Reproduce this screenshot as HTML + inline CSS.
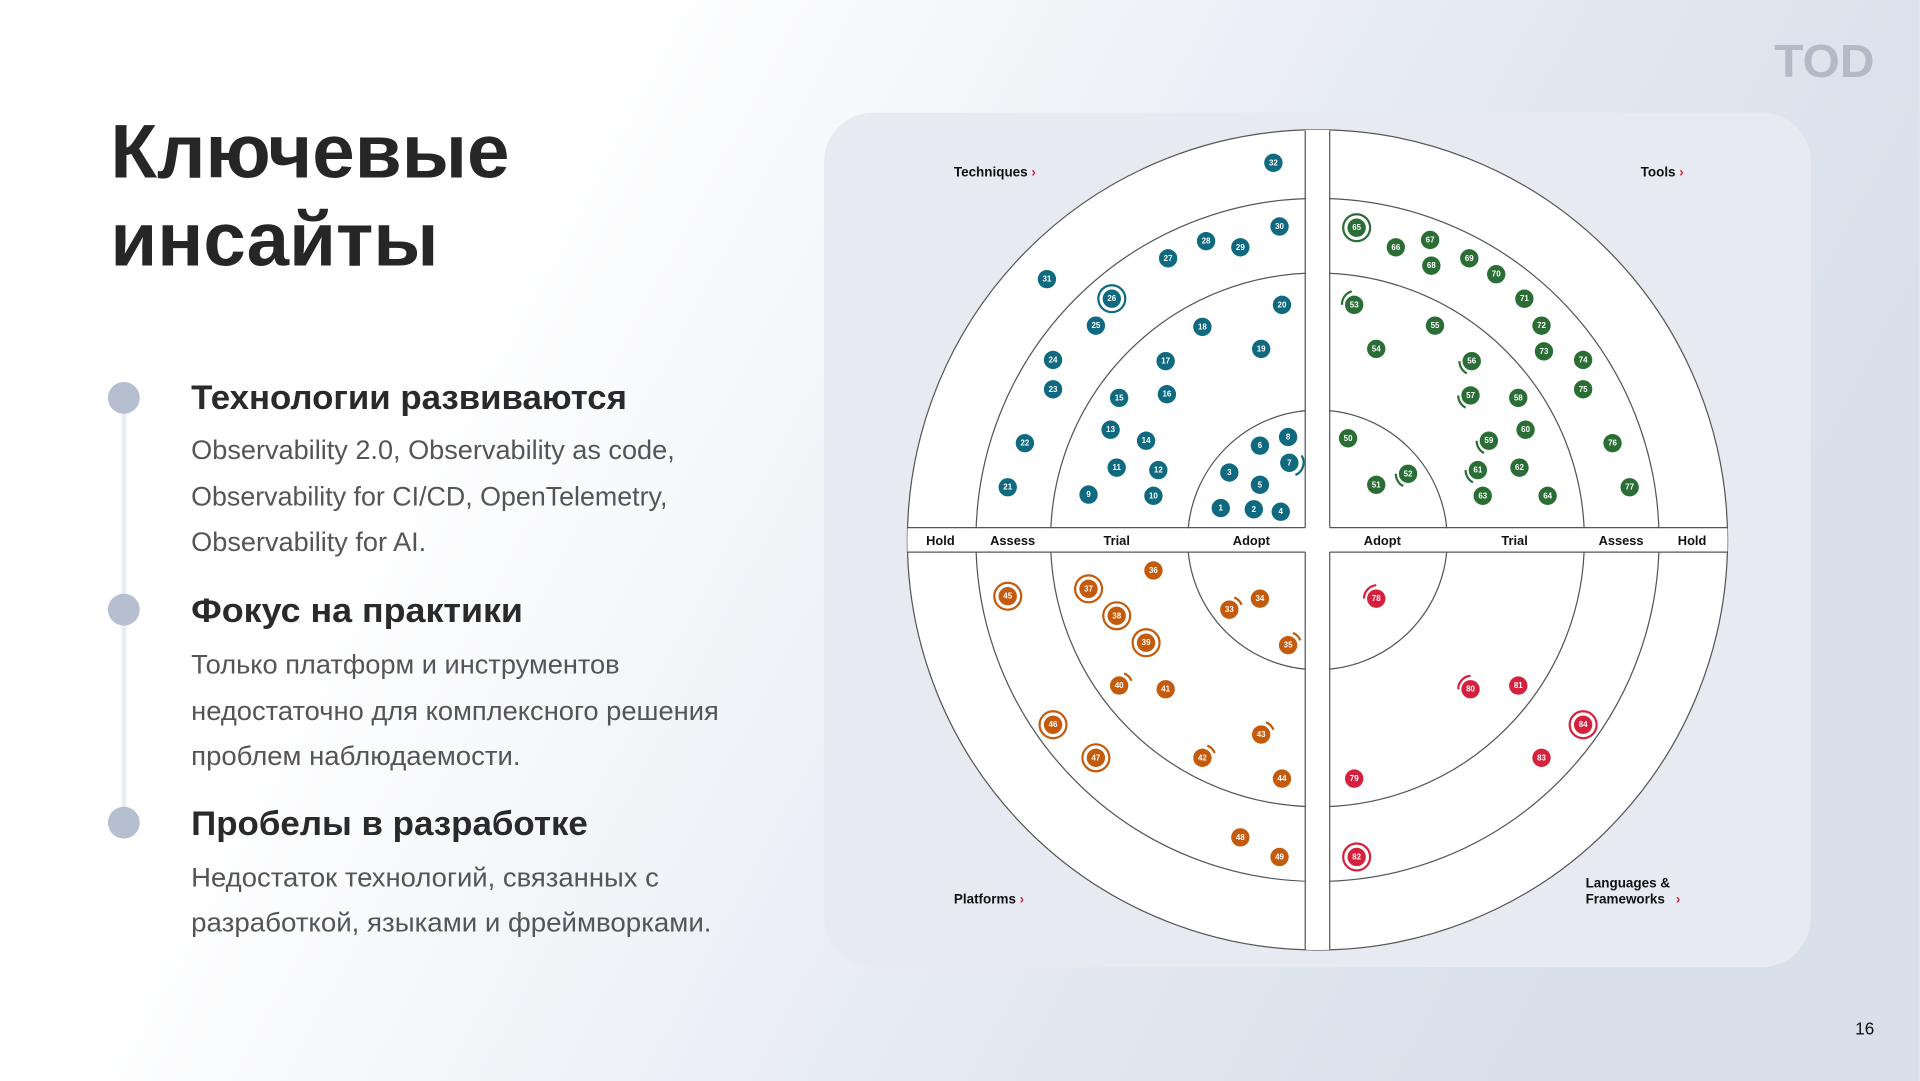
<!DOCTYPE html>
<html><head><meta charset="utf-8"><style>
html,body{margin:0;padding:0;width:1920px;height:1081px;overflow:hidden}
svg{display:block}
.t{font-family:"Liberation Sans",sans-serif;fill:#fff;font-size:6.5px;font-weight:bold;text-anchor:middle;dominant-baseline:central}
.tl{fill:#0f6a80}.gr{fill:#2a6e35}.or{fill:#c45a0c}.rd{fill:#d4213d}
.lb{font-family:"Liberation Sans",sans-serif;font-size:10.5px;font-weight:bold;fill:#111;text-anchor:middle}
.q{font-family:"Liberation Sans",sans-serif;font-size:11px;font-weight:bold;fill:#111}
.h{font-family:"Liberation Sans",sans-serif;font-size:28px;font-weight:bold;fill:#2a2a2a}
.b{font-family:"Liberation Sans",sans-serif;font-size:22px;fill:#555}
</style></head><body>
<svg width="1920" height="1081" viewBox="0 0 1568 883" xmlns="http://www.w3.org/2000/svg">
<defs>
<linearGradient id="bg" x1="0" y1="0" x2="1" y2="0.3">
<stop offset="0.3" stop-color="#ffffff"/><stop offset="0.75" stop-color="#e3e8f1"/><stop offset="1" stop-color="#d9dfeb"/>
</linearGradient>
<clipPath id="cc"><circle cx="1076" cy="441" r="335"/></clipPath>
</defs>
<rect width="1568" height="883" fill="url(#bg)"/>
<text x="1490" y="63" font-family="Liberation Sans,sans-serif" font-size="38" font-weight="bold" fill="#b3b9c6" text-anchor="middle" textLength="82" lengthAdjust="spacingAndGlyphs">TOD</text>
<text x="90" y="145" font-family="Liberation Sans,sans-serif" font-size="62" font-weight="bold" fill="#262626" textLength="326" lengthAdjust="spacingAndGlyphs">Ключевые</text>
<text x="90" y="217" font-family="Liberation Sans,sans-serif" font-size="62" font-weight="bold" fill="#262626" textLength="268" lengthAdjust="spacingAndGlyphs">инсайты</text>
<line x1="101" y1="325" x2="101" y2="672" stroke="#e9ecf3" stroke-width="4"/>
<circle cx="101" cy="325" r="13" fill="#b6bfd0"/><circle cx="101" cy="498" r="13" fill="#b6bfd0"/><circle cx="101" cy="672" r="13" fill="#b6bfd0"/>
<g lengthAdjust="spacingAndGlyphs">
<text class="h" x="156" y="334" textLength="356" lengthAdjust="spacingAndGlyphs">Технологии развиваются</text>
<text class="b" x="156" y="375" textLength="395" lengthAdjust="spacingAndGlyphs">Observability 2.0, Observability as code,</text>
<text class="b" x="156" y="413" textLength="389" lengthAdjust="spacingAndGlyphs">Observability for CI/CD, OpenTelemetry,</text>
<text class="b" x="156" y="450" textLength="192" lengthAdjust="spacingAndGlyphs">Observability for AI.</text>
<text class="h" x="156" y="508" textLength="271" lengthAdjust="spacingAndGlyphs">Фокус на практики</text>
<text class="b" x="156" y="550" textLength="350" lengthAdjust="spacingAndGlyphs">Только платформ и инструментов</text>
<text class="b" x="156" y="588" textLength="431" lengthAdjust="spacingAndGlyphs">недостаточно для комплексного решения</text>
<text class="b" x="156" y="625" textLength="269" lengthAdjust="spacingAndGlyphs">проблем наблюдаемости.</text>
<text class="h" x="156" y="682" textLength="324" lengthAdjust="spacingAndGlyphs">Пробелы в разработке</text>
<text class="b" x="156" y="724" textLength="382" lengthAdjust="spacingAndGlyphs">Недостаток технологий, связанных с</text>
<text class="b" x="156" y="761" textLength="425" lengthAdjust="spacingAndGlyphs">разработкой, языками и фреймворками.</text>
</g>
<text x="1523" y="845" font-family="Liberation Sans,sans-serif" font-size="14" fill="#111" text-anchor="middle">16</text>

<rect x="673" y="92" width="806" height="698" rx="40" fill="#e7ebf1"/>
<g fill="none" stroke="#555" stroke-width="1">
<circle cx="1076" cy="441" r="335" fill="#fff"/>
<circle cx="1076" cy="441" r="279"/>
<circle cx="1076" cy="441" r="218"/>
<circle cx="1076" cy="441" r="106"/>
</g>
<g clip-path="url(#cc)">
<rect x="1066.5" y="100" width="19" height="690" fill="#fff"/>
<rect x="735" y="431.5" width="682" height="19" fill="#fff"/>
</g>
<g stroke="#555" stroke-width="1">
<line x1="1066" y1="107" x2="1066" y2="431"/><line x1="1086" y1="107" x2="1086" y2="431"/>
<line x1="1066" y1="451" x2="1066" y2="776"/><line x1="1086" y1="451" x2="1086" y2="776"/>
<line x1="741" y1="431" x2="1066" y2="431"/><line x1="1086" y1="431" x2="1411" y2="431"/>
<line x1="741" y1="451" x2="1066" y2="451"/><line x1="1086" y1="451" x2="1411" y2="451"/>
</g>
<text class="lb" x="768" y="445">Hold</text><text class="lb" x="827" y="445">Assess</text><text class="lb" x="912" y="445">Trial</text><text class="lb" x="1022" y="445">Adopt</text>
<text class="lb" x="1129" y="445">Adopt</text><text class="lb" x="1237" y="445">Trial</text><text class="lb" x="1324" y="445">Assess</text><text class="lb" x="1382" y="445">Hold</text>
<text class="q" x="779" y="144">Techniques <tspan fill="#d4213d">›</tspan></text>
<text class="q" x="1340" y="144">Tools <tspan fill="#d4213d">›</tspan></text>
<text class="q" x="779" y="738">Platforms <tspan fill="#d4213d">›</tspan></text>
<text class="q" x="1295" y="725">Languages &amp;</text>
<text class="q" x="1295" y="738">Frameworks <tspan dx="6" fill="#d4213d">›</tspan></text>

<g fill="none" stroke-width="1.8">
<circle cx="908" cy="244" r="11" stroke="#0f6a80"/>
<path d="M1058,388 A11,11 0 0 0 1063,372" stroke="#0f6a80"/>
<circle cx="1108" cy="186" r="11" stroke="#2a6e35"/>
<path d="M1096,249 A11,11 0 0 1 1104,238" stroke="#2a6e35"/><path d="M1192,295 A11,11 0 0 0 1198,305" stroke="#2a6e35"/>
<path d="M1191,323 A11,11 0 0 0 1197,333" stroke="#2a6e35"/><path d="M1206,360 A11,11 0 0 0 1212,370" stroke="#2a6e35"/>
<path d="M1197,384 A11,11 0 0 0 1203,394" stroke="#2a6e35"/><path d="M1140,387 A11,11 0 0 0 1146,397" stroke="#2a6e35"/>
<circle cx="889" cy="481" r="11" stroke="#c45a0c"/><circle cx="823" cy="487" r="11" stroke="#c45a0c"/>
<circle cx="912" cy="503" r="11" stroke="#c45a0c"/><circle cx="936" cy="525" r="11" stroke="#c45a0c"/>
<circle cx="860" cy="592" r="11" stroke="#c45a0c"/><circle cx="895" cy="619" r="11" stroke="#c45a0c"/>
<path d="M1008,488 A11,11 0 0 1 1014,494" stroke="#c45a0c"/><path d="M1056,517 A11,11 0 0 1 1062,523" stroke="#c45a0c"/>
<path d="M918,550 A11,11 0 0 1 924,556" stroke="#c45a0c"/><path d="M1034,590 A11,11 0 0 1 1040,596" stroke="#c45a0c"/>
<path d="M986,609 A11,11 0 0 1 992,615" stroke="#c45a0c"/>
<circle cx="1293" cy="592" r="11" stroke="#d4213d"/><circle cx="1108" cy="700" r="11" stroke="#d4213d"/>
<path d="M1114,489 A11,11 0 0 1 1124,478" stroke="#d4213d"/><path d="M1191,563 A11,11 0 0 1 1201,552" stroke="#d4213d"/>
</g>

<g class="tl">
<circle cx="1040" cy="133" r="7.5"/><circle cx="1045" cy="185" r="7.5"/><circle cx="1013" cy="202" r="7.5"/><circle cx="985" cy="197" r="7.5"/>
<circle cx="954" cy="211" r="7.5"/><circle cx="855" cy="228" r="7.5"/><circle cx="908" cy="244" r="7.5"/><circle cx="895" cy="266" r="7.5"/>
<circle cx="860" cy="294" r="7.5"/><circle cx="860" cy="318" r="7.5"/><circle cx="837" cy="362" r="7.5"/><circle cx="823" cy="398" r="7.5"/>
<circle cx="1047" cy="249" r="7.5"/><circle cx="982" cy="267" r="7.5"/><circle cx="1030" cy="285" r="7.5"/><circle cx="952" cy="295" r="7.5"/>
<circle cx="953" cy="322" r="7.5"/><circle cx="914" cy="325" r="7.5"/><circle cx="907" cy="351" r="7.5"/><circle cx="936" cy="360" r="7.5"/>
<circle cx="912" cy="382" r="7.5"/><circle cx="946" cy="384" r="7.5"/><circle cx="889" cy="404" r="7.5"/><circle cx="942" cy="405" r="7.5"/>
<circle cx="1052" cy="357" r="7.5"/><circle cx="1029" cy="364" r="7.5"/><circle cx="1053" cy="378" r="7.5"/><circle cx="1004" cy="386" r="7.5"/>
<circle cx="1029" cy="396" r="7.5"/><circle cx="997" cy="415" r="7.5"/><circle cx="1024" cy="416" r="7.5"/><circle cx="1046" cy="418" r="7.5"/>
</g>
<g class="t">
<text x="1040" y="133">32</text><text x="1045" y="185">30</text><text x="1013" y="202">29</text><text x="985" y="197">28</text>
<text x="954" y="211">27</text><text x="855" y="228">31</text><text x="908" y="244">26</text><text x="895" y="266">25</text>
<text x="860" y="294">24</text><text x="860" y="318">23</text><text x="837" y="362">22</text><text x="823" y="398">21</text>
<text x="1047" y="249">20</text><text x="982" y="267">18</text><text x="1030" y="285">19</text><text x="952" y="295">17</text>
<text x="953" y="322">16</text><text x="914" y="325">15</text><text x="907" y="351">13</text><text x="936" y="360">14</text>
<text x="912" y="382">11</text><text x="946" y="384">12</text><text x="889" y="404">9</text><text x="942" y="405">10</text>
<text x="1052" y="357">8</text><text x="1029" y="364">6</text><text x="1053" y="378">7</text><text x="1004" y="386">3</text>
<text x="1029" y="396">5</text><text x="997" y="415">1</text><text x="1024" y="416">2</text><text x="1046" y="418">4</text>
</g>

<g class="gr">
<circle cx="1108" cy="186" r="7.5"/><circle cx="1140" cy="202" r="7.5"/><circle cx="1168" cy="196" r="7.5"/><circle cx="1169" cy="217" r="7.5"/>
<circle cx="1200" cy="211" r="7.5"/><circle cx="1222" cy="224" r="7.5"/><circle cx="1245" cy="244" r="7.5"/><circle cx="1106" cy="249" r="7.5"/>
<circle cx="1172" cy="266" r="7.5"/><circle cx="1259" cy="266" r="7.5"/><circle cx="1124" cy="285" r="7.5"/><circle cx="1261" cy="287" r="7.5"/>
<circle cx="1293" cy="294" r="7.5"/><circle cx="1202" cy="295" r="7.5"/><circle cx="1293" cy="318" r="7.5"/><circle cx="1201" cy="323" r="7.5"/>
<circle cx="1240" cy="325" r="7.5"/><circle cx="1246" cy="351" r="7.5"/><circle cx="1216" cy="360" r="7.5"/><circle cx="1101" cy="358" r="7.5"/>
<circle cx="1317" cy="362" r="7.5"/><circle cx="1207" cy="384" r="7.5"/><circle cx="1241" cy="382" r="7.5"/><circle cx="1150" cy="387" r="7.5"/>
<circle cx="1124" cy="396" r="7.5"/><circle cx="1331" cy="398" r="7.5"/><circle cx="1211" cy="405" r="7.5"/><circle cx="1264" cy="405" r="7.5"/>
</g>
<g class="t">
<text x="1108" y="186">65</text><text x="1140" y="202">66</text><text x="1168" y="196">67</text><text x="1169" y="217">68</text>
<text x="1200" y="211">69</text><text x="1222" y="224">70</text><text x="1245" y="244">71</text><text x="1106" y="249">53</text>
<text x="1172" y="266">55</text><text x="1259" y="266">72</text><text x="1124" y="285">54</text><text x="1261" y="287">73</text>
<text x="1293" y="294">74</text><text x="1202" y="295">56</text><text x="1293" y="318">75</text><text x="1201" y="323">57</text>
<text x="1240" y="325">58</text><text x="1246" y="351">60</text><text x="1216" y="360">59</text><text x="1101" y="358">50</text>
<text x="1317" y="362">76</text><text x="1207" y="384">61</text><text x="1241" y="382">62</text><text x="1150" y="387">52</text>
<text x="1124" y="396">51</text><text x="1331" y="398">77</text><text x="1211" y="405">63</text><text x="1264" y="405">64</text>
</g>

<g class="or">
<circle cx="942" cy="466" r="7.5"/><circle cx="889" cy="481" r="7.5"/><circle cx="823" cy="487" r="7.5"/><circle cx="1029" cy="489" r="7.5"/>
<circle cx="1004" cy="498" r="7.5"/><circle cx="912" cy="503" r="7.5"/><circle cx="936" cy="525" r="7.5"/><circle cx="1052" cy="527" r="7.5"/>
<circle cx="914" cy="560" r="7.5"/><circle cx="952" cy="563" r="7.5"/><circle cx="860" cy="592" r="7.5"/><circle cx="1030" cy="600" r="7.5"/>
<circle cx="982" cy="619" r="7.5"/><circle cx="895" cy="619" r="7.5"/><circle cx="1047" cy="636" r="7.5"/><circle cx="1013" cy="684" r="7.5"/>
<circle cx="1045" cy="700" r="7.5"/>
</g>
<g class="t">
<text x="942" y="466">36</text><text x="889" y="481">37</text><text x="823" y="487">45</text><text x="1029" y="489">34</text>
<text x="1004" y="498">33</text><text x="912" y="503">38</text><text x="936" y="525">39</text><text x="1052" y="527">35</text>
<text x="914" y="560">40</text><text x="952" y="563">41</text><text x="860" y="592">46</text><text x="1030" y="600">43</text>
<text x="982" y="619">42</text><text x="895" y="619">47</text><text x="1047" y="636">44</text><text x="1013" y="684">48</text>
<text x="1045" y="700">49</text>
</g>

<g class="rd">
<circle cx="1124" cy="489" r="7.5"/><circle cx="1201" cy="563" r="7.5"/><circle cx="1240" cy="560" r="7.5"/><circle cx="1293" cy="592" r="7.5"/>
<circle cx="1259" cy="619" r="7.5"/><circle cx="1106" cy="636" r="7.5"/><circle cx="1108" cy="700" r="7.5"/>
</g>
<g class="t">
<text x="1124" y="489">78</text><text x="1201" y="563">80</text><text x="1240" y="560">81</text><text x="1293" y="592">84</text>
<text x="1259" y="619">83</text><text x="1106" y="636">79</text><text x="1108" y="700">82</text>
</g>
</svg>
</body></html>
